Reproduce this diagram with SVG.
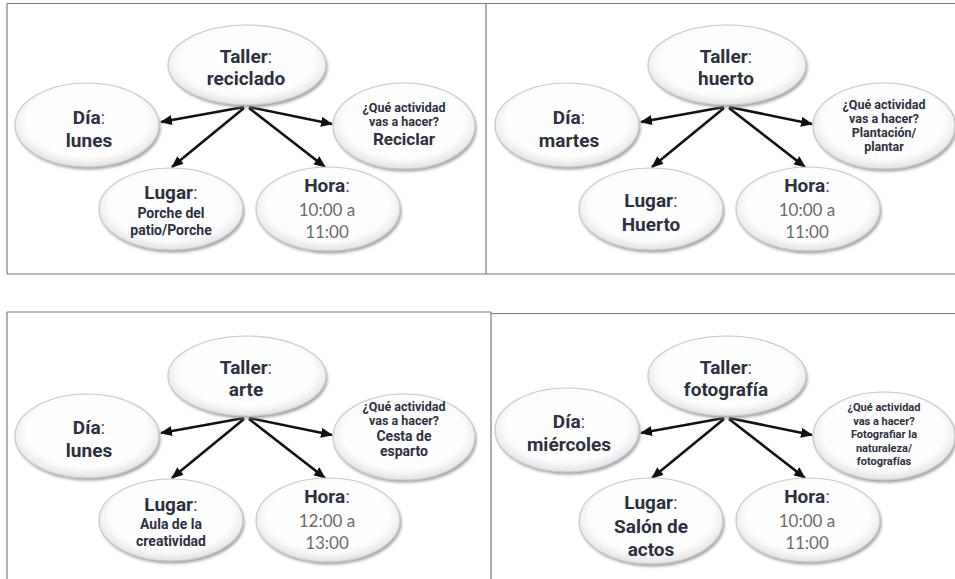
<svg xmlns="http://www.w3.org/2000/svg" width="955" height="579" viewBox="0 0 955 579">
<defs>
<radialGradient id="rg" cx="50%" cy="45%" r="55%">
<stop offset="0%" stop-color="#ffffff"/>
<stop offset="78%" stop-color="#fdfdfd"/>
<stop offset="100%" stop-color="#e2e2e2"/>
</radialGradient>
<filter id="blur" x="-10%" y="-10%" width="120%" height="130%"><feGaussianBlur stdDeviation="1.6"/></filter>
<marker id="ah" markerUnits="userSpaceOnUse" markerWidth="12" markerHeight="10" viewBox="0 0 12 10" refX="11" refY="5" orient="auto"><path d="M0,0 L12,5 L0,10 z" fill="#111"/></marker>
</defs>
<style>
.frame{stroke:#7b7b7b;stroke-width:1.2;fill:none}
.sh{fill:#8e8e8e;opacity:.85;filter:url(#blur)}
.el{fill:url(#rg);stroke:#c9c9c9;stroke-width:1.2}
text{font-family:Roboto,"Liberation Sans",sans-serif;font-weight:700;fill:#2c3140;text-anchor:middle}
.b{font-size:19px}
.s{font-size:12.5px}
.x{font-size:11px}
.m{font-size:14px}
.r{font-size:17px}
.t{font-family:Lato,"Open Sans",sans-serif;font-weight:400;font-size:17px;fill:#6b6b6b}
.c{font-weight:400;fill:#555a66}
.ar{stroke:#111;stroke-width:2.6;fill:none;marker-end:url(#ah)}
</style>
<rect width="955" height="579" fill="#ffffff"/>
<g id="frames">
<path class="frame" d="M7,3.5 H955 M7,3.5 V274 M486,3.5 V274 M7,274 H955"/>
<path class="frame" d="M7,312 H491 M7,312 V579 M491,312 V579 M491,313.5 H955"/>
</g>
<g id="connectors">
<path class="ar" d="M244,107 L161,122"/><path class="ar" d="M249,107 L332,124"/><path class="ar" d="M244,108 L172,167"/><path class="ar" d="M249,108 L325,167"/>
<path class="ar" d="M724,107 L641,122"/><path class="ar" d="M729,107 L812,124"/><path class="ar" d="M724,108 L652,167"/><path class="ar" d="M729,108 L805,167"/>
<path class="ar" d="M244,418 L161,433"/><path class="ar" d="M249,418 L332,435"/><path class="ar" d="M244,419 L172,478"/><path class="ar" d="M249,419 L325,478"/>
<path class="ar" d="M724,418 L641,433"/><path class="ar" d="M729,418 L812,435"/><path class="ar" d="M724,419 L652,478"/><path class="ar" d="M729,419 L805,478"/>
</g>
<!-- Panel 1 -->
<g id="p1-taller"><ellipse class="sh" cx="248.5" cy="67.5" rx="79" ry="40"/><ellipse class="el" cx="247" cy="65" rx="79" ry="40"/>
<text class="b" x="246" y="63">Taller<tspan class="c">:</tspan></text><text class="b" x="246" y="85">reciclado</text></g>
<g id="p1-dia"><ellipse class="sh" cx="88.5" cy="127.5" rx="72" ry="42"/><ellipse class="el" cx="87" cy="125" rx="72" ry="42"/>
<text class="b" x="89" y="124">Día<tspan class="c">:</tspan></text><text class="b" x="89" y="147">lunes</text></g>
<g id="p1-que"><ellipse class="sh" cx="405.5" cy="128.5" rx="71" ry="43"/><ellipse class="el" cx="404" cy="126" rx="71" ry="43"/>
<text class="s" x="404" y="112">¿Qué actividad</text><text class="s" x="404" y="126">vas a hacer?</text><text class="r" x="404" y="145">Reciclar</text></g>
<g id="p1-lugar"><ellipse class="sh" cx="172.5" cy="211.5" rx="72" ry="41"/><ellipse class="el" cx="171" cy="209" rx="72" ry="41"/>
<text class="b" x="171" y="199">Lugar<tspan class="c">:</tspan></text><text class="m" x="171" y="218">Porche del</text><text class="m" x="171" y="235">patio/Porche</text></g>
<g id="p1-hora"><ellipse class="sh" cx="329.5" cy="211.5" rx="72" ry="42"/><ellipse class="el" cx="328" cy="209" rx="72" ry="42"/>
<text class="b" x="327" y="192">Hora<tspan class="c">:</tspan></text><text class="t" x="327" y="216">10:00 a</text><text class="t" x="327" y="238">11:00</text></g>
<!-- Panel 2 -->
<g id="p2-taller"><ellipse class="sh" cx="728.5" cy="67.5" rx="79" ry="40"/><ellipse class="el" cx="727" cy="65" rx="79" ry="40"/>
<text class="b" x="726" y="63">Taller<tspan class="c">:</tspan></text><text class="b" x="726" y="85">huerto</text></g>
<g id="p2-dia"><ellipse class="sh" cx="568.5" cy="127.5" rx="72" ry="42"/><ellipse class="el" cx="567" cy="125" rx="72" ry="42"/>
<text class="b" x="569" y="124">Día<tspan class="c">:</tspan></text><text class="b" x="569" y="147">martes</text></g>
<g id="p2-que"><ellipse class="sh" cx="885.5" cy="128.5" rx="71" ry="43"/><ellipse class="el" cx="884" cy="126" rx="71" ry="43"/>
<text class="s" x="884" y="109">¿Qué actividad</text><text class="s" x="884" y="123">vas a hacer?</text><text class="s" x="884" y="137">Plantación/</text><text class="s" x="884" y="151">plantar</text></g>
<g id="p2-lugar"><ellipse class="sh" cx="652.5" cy="211.5" rx="72" ry="41"/><ellipse class="el" cx="651" cy="209" rx="72" ry="41"/>
<text class="b" x="651" y="207">Lugar<tspan class="c">:</tspan></text><text class="b" x="651" y="231">Huerto</text></g>
<g id="p2-hora"><ellipse class="sh" cx="809.5" cy="211.5" rx="72" ry="42"/><ellipse class="el" cx="808" cy="209" rx="72" ry="42"/>
<text class="b" x="807" y="192">Hora<tspan class="c">:</tspan></text><text class="t" x="807" y="216">10:00 a</text><text class="t" x="807" y="238">11:00</text></g>
<!-- Panel 3 -->
<g id="p3-taller"><ellipse class="sh" cx="248.5" cy="378.5" rx="79" ry="40"/><ellipse class="el" cx="247" cy="376" rx="79" ry="40"/>
<text class="b" x="246" y="374">Taller<tspan class="c">:</tspan></text><text class="b" x="246" y="396">arte</text></g>
<g id="p3-dia"><ellipse class="sh" cx="88.5" cy="438.5" rx="72" ry="42"/><ellipse class="el" cx="87" cy="436" rx="72" ry="42"/>
<text class="b" x="89" y="434">Día<tspan class="c">:</tspan></text><text class="b" x="89" y="457">lunes</text></g>
<g id="p3-que"><ellipse class="sh" cx="405.5" cy="439.5" rx="71" ry="43"/><ellipse class="el" cx="404" cy="437" rx="71" ry="43"/>
<text class="s" x="404" y="411">¿Qué actividad</text><text class="s" x="404" y="425">vas a hacer?</text><text class="m" x="404" y="441">Cesta de</text><text class="m" x="404" y="456">esparto</text></g>
<g id="p3-lugar"><ellipse class="sh" cx="172.5" cy="522.5" rx="72" ry="41"/><ellipse class="el" cx="171" cy="520" rx="72" ry="41"/>
<text class="b" x="171" y="511">Lugar<tspan class="c">:</tspan></text><text class="m" x="171" y="529">Aula de la</text><text class="m" x="171" y="546">creatividad</text></g>
<g id="p3-hora"><ellipse class="sh" cx="329.5" cy="522.5" rx="72" ry="42"/><ellipse class="el" cx="328" cy="520" rx="72" ry="42"/>
<text class="b" x="327" y="503">Hora<tspan class="c">:</tspan></text><text class="t" x="327" y="527">12:00 a</text><text class="t" x="327" y="549">13:00</text></g>
<!-- Panel 4 -->
<g id="p4-taller"><ellipse class="sh" cx="728.5" cy="378.5" rx="79" ry="40"/><ellipse class="el" cx="727" cy="376" rx="79" ry="40"/>
<text class="b" x="726" y="374">Taller<tspan class="c">:</tspan></text><text class="b" x="726" y="396">fotografía</text></g>
<g id="p4-dia"><ellipse class="sh" cx="568.5" cy="432.5" rx="72" ry="42"/><ellipse class="el" cx="567" cy="430" rx="72" ry="42"/>
<text class="b" x="569" y="428">Día<tspan class="c">:</tspan></text><text class="b" x="569" y="451">miércoles</text></g>
<g id="p4-que"><ellipse class="sh" cx="885.5" cy="438.5" rx="71" ry="44"/><ellipse class="el" cx="884" cy="436" rx="71" ry="44"/>
<text class="x" x="884" y="411">¿Qué actividad</text><text class="x" x="884" y="424.5">vas a hacer?</text><text class="x" x="884" y="438">Fotografiar la</text><text class="x" x="884" y="451.5">naturaleza/</text><text class="x" x="884" y="465">fotografías</text></g>
<g id="p4-lugar"><ellipse class="sh" cx="652.5" cy="523.5" rx="72" ry="43"/><ellipse class="el" cx="651" cy="521" rx="72" ry="43"/>
<text class="b" x="651" y="509">Lugar<tspan class="c">:</tspan></text><text class="b" x="651" y="533">Salón de</text><text class="b" x="651" y="556">actos</text></g>
<g id="p4-hora"><ellipse class="sh" cx="809.5" cy="522.5" rx="72" ry="42"/><ellipse class="el" cx="808" cy="520" rx="72" ry="42"/>
<text class="b" x="807" y="503">Hora<tspan class="c">:</tspan></text><text class="t" x="807" y="527">10:00 a</text><text class="t" x="807" y="549">11:00</text></g>
</svg>
